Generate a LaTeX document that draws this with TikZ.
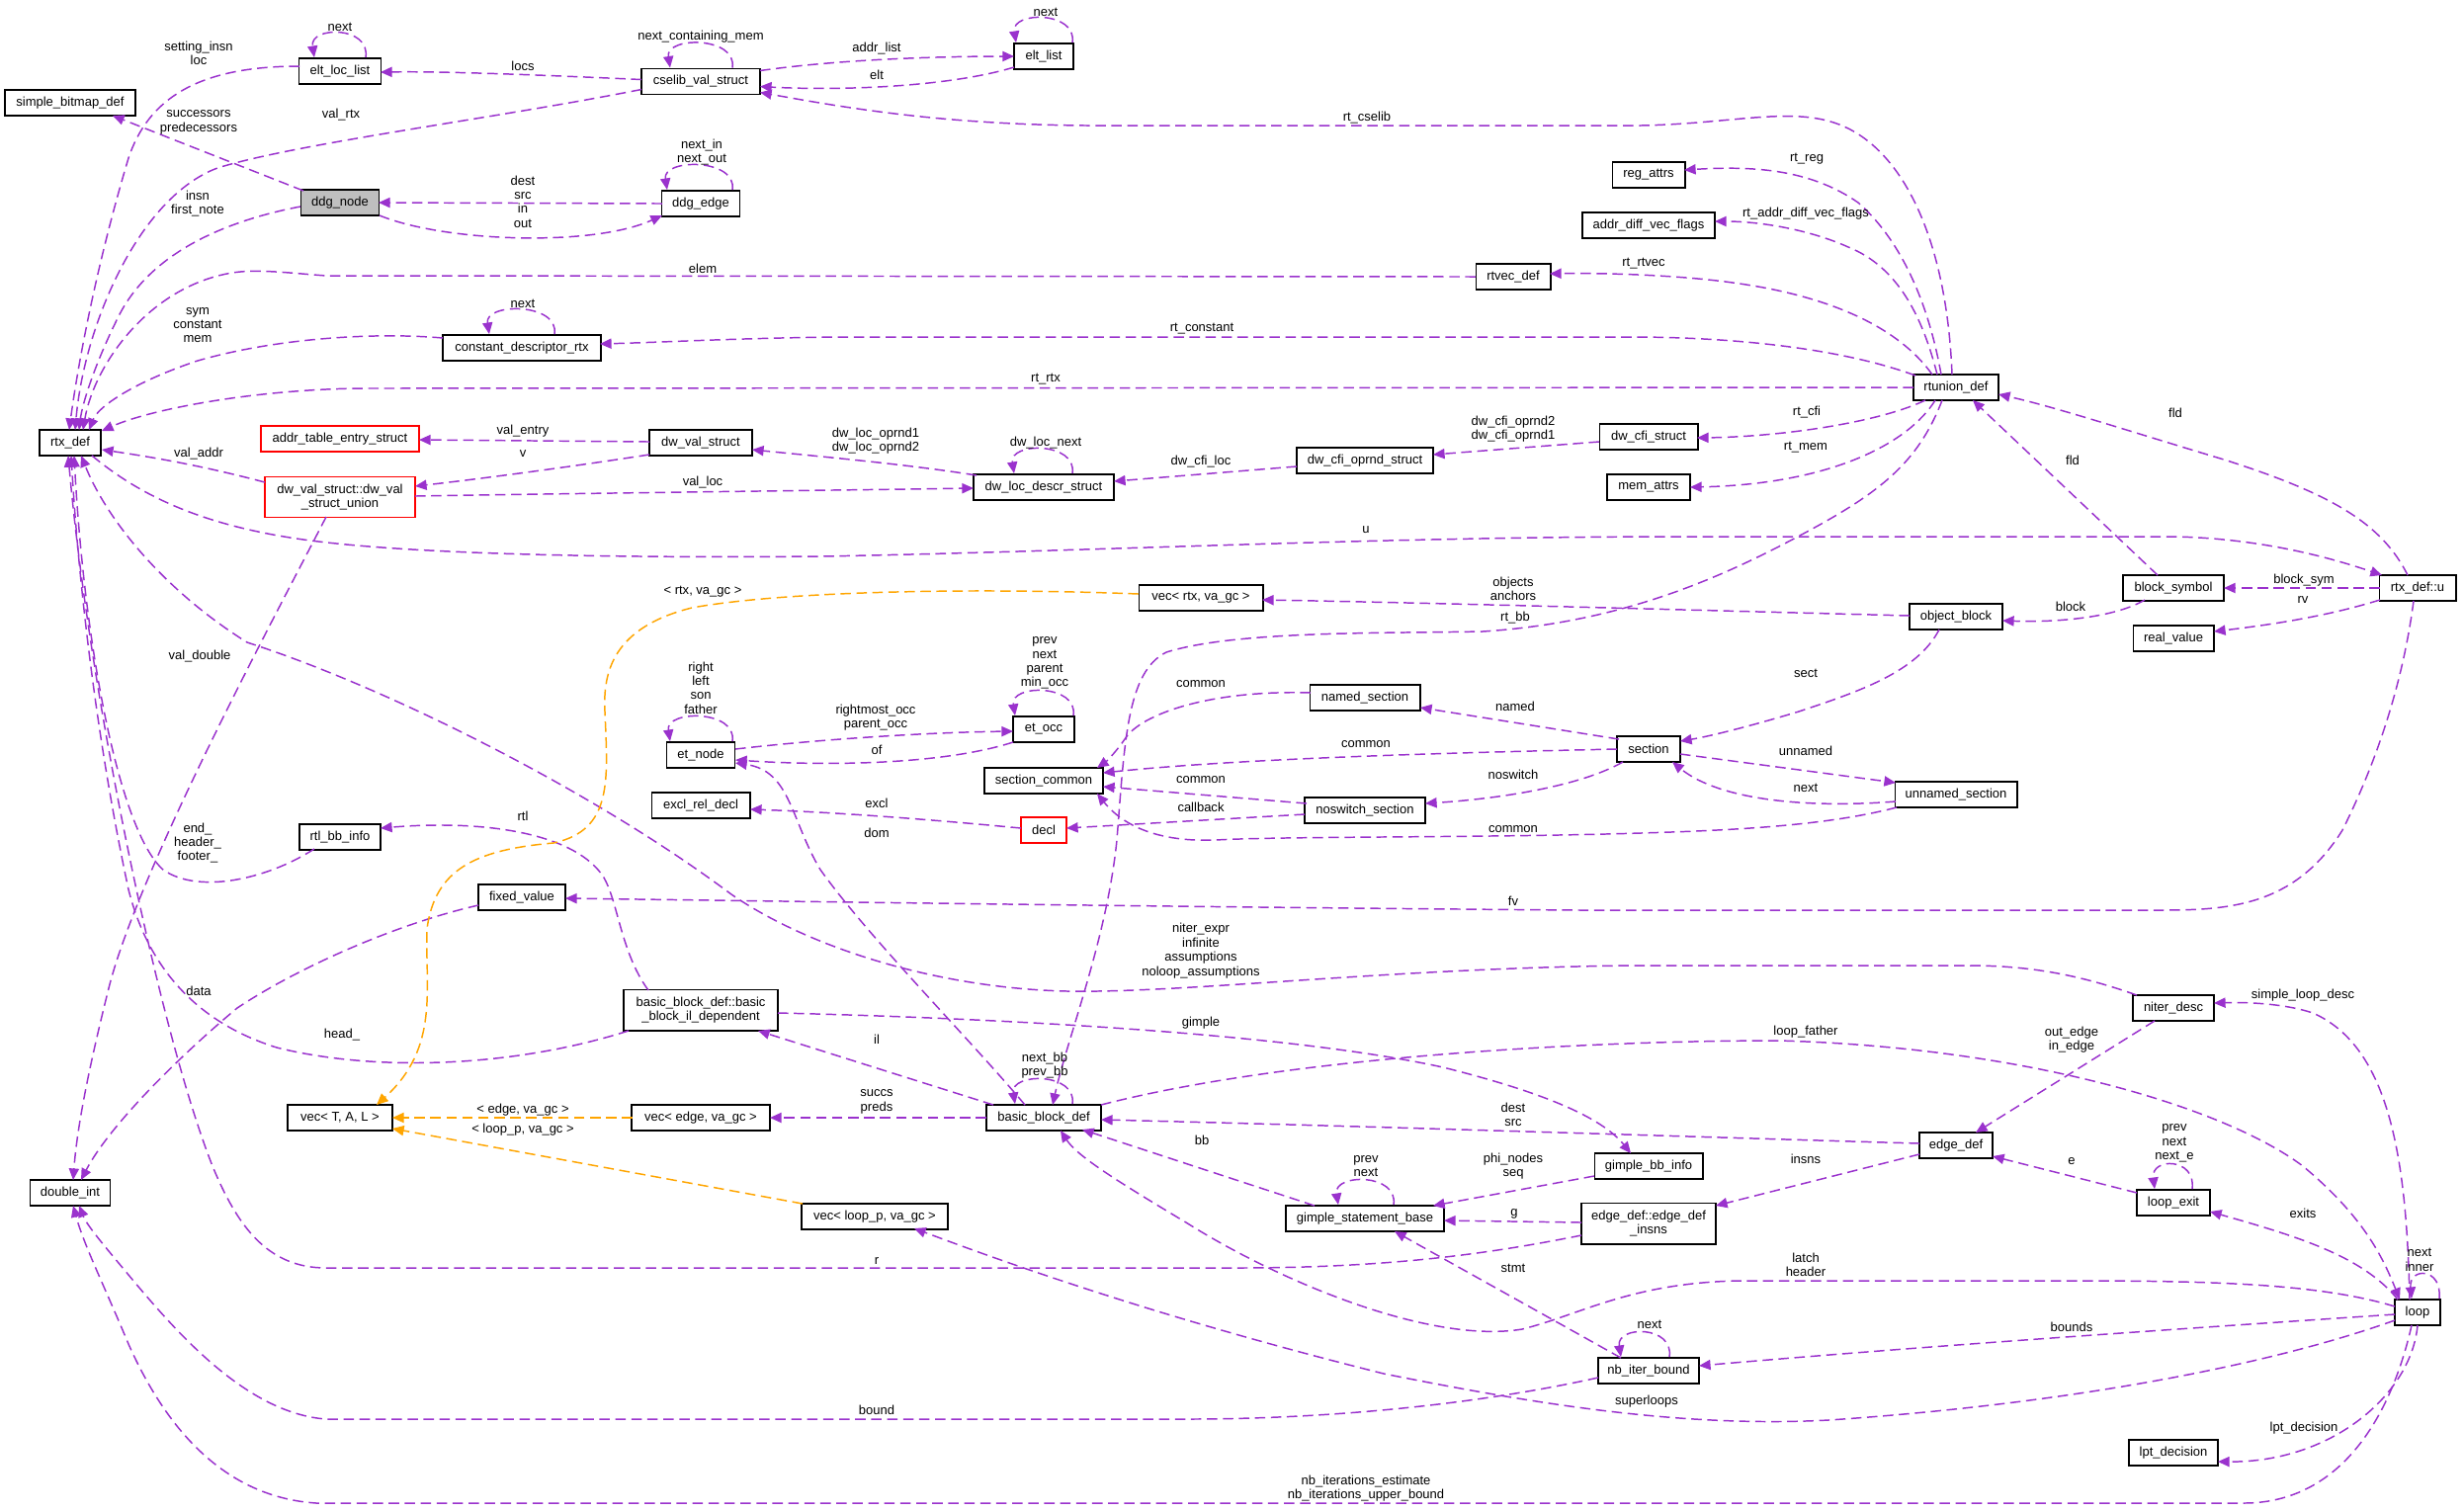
\documentclass[tikz,border=0pt]{standalone}
\usepackage{fontspec}
\setmainfont{Liberation Sans}
\usetikzlibrary{arrows.meta}
\definecolor{purp}{HTML}{9A32CD}
\definecolor{orng}{HTML}{FFA500}
\definecolor{gry}{HTML}{BFBFBF}
\newcommand\dfont{\fontsize{3.7}{4.1}\selectfont}
\begin{document}
\begin{tikzpicture}[x=0.01cm,y=-0.01cm,
 box/.style={draw=black,line width=0.55pt,minimum height=0.26cm,inner sep=0pt,font=\dfont,align=center},
 tall/.style={box,minimum height=0.41cm},
 lab/.style={font=\dfont,align=center,inner sep=0pt},
 e/.style={draw=purp,line width=0.42pt,dash pattern=on 3pt off 1.6pt,-{Triangle[length=3.3pt,width=2.9pt]}},
 o/.style={e,draw=orng}]
\useasboundingbox (0,0) rectangle (2493,1529);
% nodes
\node[box,minimum width=1.31cm] (sbd) at (71,104) {simple\_bitmap\_def};
\node[box,minimum width=0.83cm] (ell) at (344,72) {elt\_loc\_list};
\node[box,minimum width=1.20cm] (csv) at (709,82.5) {cselib\_val\_struct};
\node[box,minimum width=0.79cm,fill=gry] (ddgn) at (344,205) {ddg\_node};
\node[box,minimum width=0.79cm] (ddge) at (709,206) {ddg\_edge};
\node[box,minimum width=1.59cm] (cdr) at (528,352) {constant\_descriptor\_rtx};
\node[box,minimum width=0.62cm] (rtx) at (71,448) {rtx\_def};
\node[box,minimum width=1.59cm,draw=red] (ate) at (344,444) {addr\_table\_entry\_struct};
\node[box,minimum width=1.04cm] (dvs) at (709,448) {dw\_val\_struct};
\node[tall,minimum width=1.52cm,draw=red] (dvu) at (344,503) {dw\_val\_struct::dw\_val\\\_struct\_union};
\node[box,minimum width=0.60cm] (elt) at (1056,57) {elt\_list};
\node[box,minimum width=0.75cm] (rtv) at (1531,280) {rtvec\_def};
\node[box,minimum width=0.73cm] (rga) at (1668,177) {reg\_attrs};
\node[box,minimum width=1.34cm] (adv) at (1668,228) {addr\_diff\_vec\_flags};
\node[box,minimum width=1.42cm] (dld) at (1056,493) {dw\_loc\_descr\_struct};
\node[box,minimum width=1.38cm] (dco) at (1381,466) {dw\_cfi\_oprnd\_struct};
\node[box,minimum width=0.99cm] (dcs) at (1668,442) {dw\_cfi\_struct};
\node[box,minimum width=0.84cm] (mem) at (1668,493) {mem\_attrs};
\node[box,minimum width=0.86cm] (rtu) at (1979,392) {rtunion\_def};
\node[box,minimum width=0.69cm] (etn) at (709,764) {et\_node};
\node[box,minimum width=0.99cm] (erd) at (709,815) {excl\_rel\_decl};
\node[box,minimum width=0.82cm] (rbi) at (344,847) {rtl\_bb\_info};
\node[box,minimum width=0.88cm] (fxv) at (528,908) {fixed\_value};
\node[tall,minimum width=1.55cm] (bil) at (709,1022) {basic\_block\_def::basic\\\_block\_il\_dependent};
\node[box,minimum width=1.25cm] (vrx) at (1215,605) {vec< rtx, va\_gc >};
\node[box,minimum width=0.62cm] (eto) at (1056,738) {et\_occ};
\node[box,minimum width=1.11cm] (nms) at (1381,706) {named\_section};
\node[box,minimum width=1.20cm] (scm) at (1056,790) {section\_common};
\node[box,minimum width=1.22cm] (nss) at (1381,820) {noswitch\_section};
\node[box,minimum width=0.46cm,draw=red] (dcl) at (1056,840) {decl};
\node[box,minimum width=0.64cm] (sec) at (1668,758) {section};
\node[box,minimum width=1.02cm] (bsy) at (2199,595) {block\_symbol};
\node[box,minimum width=0.77cm] (rxu) at (2446,595) {rtx\_def::u};
\node[box,minimum width=0.94cm] (obl) at (1979,624) {object\_block};
\node[box,minimum width=0.81cm] (rlv) at (2199,646) {real\_value};
\node[box,minimum width=1.23cm] (uns) at (1979,804) {unnamed\_section};
\node[box,minimum width=0.82cm] (nid) at (2199,1020) {niter\_desc};
\node[box,minimum width=1.06cm] (vT) at (344,1131) {vec< T, A, L >};
\node[box,minimum width=1.39cm] (ved) at (709,1131) {vec< edge, va\_gc >};
\node[box,minimum width=0.81cm] (dbl) at (71,1207) {double\_int};
\node[box,minimum width=1.47cm] (vlp) at (885,1231) {vec< loop\_p, va\_gc >};
\node[box,minimum width=1.16cm] (bbd) at (1056,1131) {basic\_block\_def};
\node[box,minimum width=1.60cm] (gsb) at (1381,1233) {gimple\_statement\_base};
\node[box,minimum width=1.09cm] (gbi) at (1668,1180) {gimple\_bb\_info};
\node[tall,minimum width=1.36cm] (edi) at (1668,1238) {edge\_def::edge\_def\\\_insns};
\node[box,minimum width=1.02cm] (nib) at (1668,1387) {nb\_iter\_bound};
\node[box,minimum width=0.74cm] (edf) at (1979,1159) {edge\_def};
\node[box,minimum width=0.74cm] (lex) at (2199,1217) {loop\_exit};
\node[box,minimum width=0.46cm] (lop) at (2446,1328) {loop};
\node[box,minimum width=0.90cm] (lpt) at (2199,1470) {lpt\_decision};
% edges
\draw[e] ([shift={(-41,-5)}]ell.center) .. controls (200,67) and (150,100) .. (130,160) .. controls (100,260) and (80,360) .. ([shift={(-1,-13)}]rtx.center);
\draw[e] ([shift={(-60,8)}]csv.center) .. controls (500,120) and (300,145) .. (220,170) .. controls (140,200) and (85,330) .. ([shift={(5,-13)}]rtx.center);
\draw[e] ([shift={(-37,-12)}]ddgn.center) -- ([shift={(43,13)}]sbd.center);
\draw[e] ([shift={(-40,4)}]ddgn.center) .. controls (220,225) and (150,260) .. (120,320) .. controls (95,370) and (83,410) .. ([shift={(9,-13)}]rtx.center);
\draw[e] ([shift={(-39,0)}]ddge.center) -- ([shift={(39,0)}]ddgn.center);
\draw[e] ([shift={(40,13)}]ddgn.center) .. controls (450,245) and (600,250) .. ([shift={(-39,12)}]ddge.center);
\draw[e] ([shift={(-60,-2)}]csv.center) .. controls (550,76) and (450,72) .. ([shift={(41,1)}]ell.center);
\draw[e] ([shift={(60,-11)}]csv.center) .. controls (850,60) and (950,57) .. ([shift={(-30,0)}]elt.center);
\draw[e] ([shift={(-30,11)}]elt.center) .. controls (960,88) and (850,92) .. ([shift={(60,5)}]csv.center);
\draw[e] ([shift={(-4,-13)}]rtu.center) .. controls (1970,250) and (1930,160) .. (1870,130) .. controls (1820,105) and (1760,125) .. (1660,127) -- (1100,127) .. controls (950,126) and (850,108) .. ([shift={(60,11)}]csv.center);
\draw[e] ([shift={(-15,-13)}]rtu.center) .. controls (1950,300) and (1920,240) .. (1880,205) .. controls (1830,170) and (1770,168) .. ([shift={(36,-5)}]rga.center);
\draw[e] ([shift={(-19,-13)}]rtu.center) .. controls (1945,320) and (1920,270) .. (1870,250) .. controls (1830,232) and (1780,224) .. ([shift={(67,-4)}]adv.center);
\draw[e] ([shift={(-24,-13)}]rtu.center) .. controls (1920,330) and (1850,300) .. (1760,287) .. controls (1700,278) and (1620,276) .. ([shift={(37,-3)}]rtv.center);
\draw[e] ([shift={(-38,0)}]rtv.center) -- (330,279) .. controls (290,276) and (260,272) .. (235,276) .. controls (150,290) and (95,370) .. ([shift={(13,-13)}]rtx.center);
\draw[e] ([shift={(-41,-12)}]rtu.center) .. controls (1870,355) and (1770,342) .. (1660,341) -- (850,341) .. controls (750,342) and (680,346) .. ([shift={(79,-4)}]cdr.center);
\draw[e] ([shift={(-80,-10)}]cdr.center) .. controls (380,336) and (280,342) .. (200,365) .. controls (140,385) and (100,410) .. ([shift={(19,-13)}]rtx.center);
\draw[e] ([shift={(-43,0)}]rtu.center) -- (360,393) .. controls (250,395) and (150,415) .. ([shift={(32,-12)}]rtx.center);
\draw[e] ([shift={(-52,-1)}]dvs.center) -- ([shift={(80,1)}]ate.center);
\draw[e] ([shift={(-52,12)}]dvs.center) .. controls (580,472) and (490,484) .. ([shift={(76,-11)}]dvu.center);
\draw[e] ([shift={(-76,-15)}]dvu.center) .. controls (200,470) and (150,462) .. ([shift={(32,7)}]rtx.center);
\draw[e] ([shift={(76,-1)}]dvu.center) .. controls (600,499) and (850,496) .. ([shift={(-71,1)}]dld.center);
\draw[e] ([shift={(-68,-12)}]dld.center) .. controls (920,470) and (830,462) .. ([shift={(52,7)}]dvs.center);
\draw[e] ([shift={(-69,6)}]dco.center) -- ([shift={(71,-6)}]dld.center);
\draw[e] ([shift={(-50,5)}]dcs.center) -- ([shift={(69,-6)}]dco.center);
\draw[e] ([shift={(-31,13)}]rtu.center) .. controls (1900,428) and (1800,442) .. ([shift={(49,1)}]dcs.center);
\draw[e] ([shift={(-21,13)}]rtu.center) .. controls (1930,450) and (1850,490) .. ([shift={(42,0)}]mem.center);
\draw[e] ([shift={(-14,13)}]rtu.center) .. controls (1940,470) and (1900,500) .. (1819,543) .. controls (1740,585) and (1640,630) .. (1500,639) .. controls (1400,641) and (1250,638) .. (1180,660) .. controls (1140,680) and (1138,750) .. (1130,850) .. controls (1120,950) and (1080,1050) .. ([shift={(9,-13)}]bbd.center);
\draw[e] ([shift={(35,-6)}]etn.center) .. controls (830,748) and (940,741) .. ([shift={(-31,2)}]eto.center);
\draw[e] ([shift={(-31,13)}]eto.center) .. controls (960,772) and (850,776) .. ([shift={(35,5)}]etn.center);
\draw[e] ([shift={(-19,-13)}]bbd.center) .. controls (980,1050) and (880,950) .. (830,880) .. controls (800,830) and (800,780) .. ([shift={(35,8)}]etn.center);
\draw[e] ([shift={(-23,-2)}]dcl.center) .. controls (950,830) and (850,822) .. ([shift={(50,4)}]erd.center);
\draw[e] ([shift={(-61,4)}]nss.center) -- ([shift={(23,-2)}]dcl.center);
\draw[e] ([shift={(-59,-7)}]nss.center) -- ([shift={(60,6)}]scm.center);
\draw[e] ([shift={(-55,-5)}]nms.center) .. controls (1230,698) and (1160,720) .. (1140,745) .. controls (1130,760) and (1120,770) .. ([shift={(54,-13)}]scm.center);
\draw[e] ([shift={(-32,0)}]sec.center) .. controls (1450,762) and (1250,768) .. ([shift={(60,-8)}]scm.center);
\draw[e] ([shift={(-60,13)}]uns.center) .. controls (1850,835) and (1760,840) .. (1660,843) .. controls (1500,848) and (1300,846) .. (1230,850) .. controls (1180,852) and (1140,840) .. ([shift={(54,13)}]scm.center);
\draw[e] ([shift={(-30,-10)}]sec.center) -- ([shift={(56,10)}]nms.center);
\draw[e] ([shift={(-26,13)}]sec.center) .. controls (1600,795) and (1520,808) .. ([shift={(61,-7)}]nss.center);
\draw[e] ([shift={(32,5)}]sec.center) -- ([shift={(-61,-12)}]uns.center);
\draw[e] ([shift={(-61,7)}]uns.center) .. controls (1830,818) and (1740,810) .. ([shift={(24,13)}]sec.center);
\draw[e] ([shift={(-17,13)}]obl.center) .. controls (1940,680) and (1880,700) .. (1820,720) .. controls (1770,735) and (1730,745) .. ([shift={(32,-8)}]sec.center);
\draw[e] ([shift={(-47,-1)}]obl.center) .. controls (1700,617) and (1450,610) .. ([shift={(62,2)}]vrx.center);
\draw[e] ([shift={(-29,12)}]bsy.center) .. controls (2140,625) and (2080,630) .. ([shift={(47,4)}]obl.center);
\draw[e] ([shift={(-16,-13)}]bsy.center) -- ([shift={(17,13)}]rtu.center);
\draw[e] ([shift={(-10,-13)}]rxu.center) .. controls (2410,530) and (2360,500) .. (2250,465) .. controls (2150,435) and (2080,412) .. ([shift={(43,7)}]rtu.center);
\draw[e] ([shift={(-38,0)}]rxu.center) -- ([shift={(51,0)}]bsy.center);
\draw[e] ([shift={(-38,12)}]rxu.center) .. controls (2350,625) and (2290,633) .. ([shift={(41,-7)}]rlv.center);
\draw[e] ([shift={(-4,13)}]rxu.center) .. controls (2430,700) and (2400,780) .. (2370,840) .. controls (2320,920) and (2250,921) .. (2180,921) -- (1600,921) .. controls (1200,918) and (800,912) .. ([shift={(44,1)}]fxv.center);
\draw[e] ([shift={(22,13)}]rtx.center) .. controls (140,500) and (200,530) .. (300,545) .. controls (400,560) and (600,565) .. (830,563) .. controls (1100,558) and (1400,543) .. (1700,543) -- (2200,543) .. controls (2290,545) and (2360,565) .. ([shift={(-36,-13)}]rxu.center);
\draw[e] ([shift={(-37,-13)}]nid.center) .. controls (2100,985) and (2050,977) .. (1990,977) -- (1650,977) .. controls (1400,980) and (1200,1005) .. (1080,1003) .. controls (950,1000) and (820,960) .. (740,905) .. controls (600,800) and (390,695) .. (250,650) .. controls (170,600) and (110,530) .. ([shift={(11,13)}]rtx.center);
\draw[e] ([shift={(-26,12)}]rbi.center) .. controls (270,890) and (200,905) .. (165,880) .. controls (120,840) and (85,650) .. ([shift={(4,13)}]rtx.center);
\draw[e] ([shift={(-73,21)}]bil.center) .. controls (520,1080) and (380,1085) .. (280,1060) .. controls (200,1035) and (150,980) .. (130,900) .. controls (100,760) and (80,600) .. ([shift={(1,13)}]rtx.center);
\draw[e] ([shift={(-68,12)}]edi.center) .. controls (1500,1270) and (1400,1283) .. (1250,1283) -- (330,1283) .. controls (270,1283) and (240,1240) .. (215,1180) .. controls (160,1040) and (90,700) .. ([shift={(-2,13)}]rtx.center);
\draw[e] ([shift={(-44,8)}]fxv.center) .. controls (400,935) and (300,980) .. (240,1020) .. controls (180,1070) and (110,1140) .. ([shift={(11,-13)}]dbl.center);
\draw[e] ([shift={(-14,20)}]dvu.center) .. controls (280,620) and (140,880) .. (110,1000) .. controls (90,1080) and (78,1140) .. ([shift={(3,-13)}]dbl.center);
\draw[e] ([shift={(-51,7)}]nib.center) .. controls (1500,1420) and (1350,1436) .. (1200,1436) -- (330,1436) .. controls (250,1430) and (180,1350) .. (130,1290) .. controls (105,1260) and (88,1240) .. ([shift={(9,13)}]dbl.center);
\draw[e] ([shift={(-6,13)}]lop.center) .. controls (2420,1430) and (2370,1521) .. (2270,1521) -- (320,1521) .. controls (230,1515) and (170,1450) .. (130,1360) .. controls (105,1300) and (85,1260) .. ([shift={(3,13)}]dbl.center);
\draw[e] ([shift={(0,13)}]lop.center) .. controls (2440,1410) and (2360,1480) .. ([shift={(45,9)}]lpt.center);
\draw[e] ([shift={(-53,-20)}]bil.center) .. controls (625,960) and (625,900) .. (605,880) .. controls (570,840) and (480,830) .. ([shift={(41,-9)}]rbi.center);
\draw[o] ([shift={(-63,-4)}]vrx.center) .. controls (1000,595) and (800,597) .. (700,615) .. controls (620,635) and (610,680) .. (612,720) .. controls (615,790) and (620,840) .. (560,853) .. controls (480,860) and (440,880) .. (432,940) .. controls (430,1000) and (445,1060) .. ([shift={(37,-13)}]vT.center);
\draw[o] ([shift={(-69,0)}]ved.center) -- ([shift={(53,0)}]vT.center);
\draw[o] ([shift={(-73,-13)}]vlp.center) -- ([shift={(53,11)}]vT.center);
\draw[e] ([shift={(-58,0)}]bbd.center) -- ([shift={(70,0)}]ved.center);
\draw[e] ([shift={(-51,-13)}]bbd.center) -- ([shift={(58,21)}]bil.center);
\draw[e] ([shift={(78,3)}]bil.center) .. controls (1000,1030) and (1300,1045) .. (1460,1080) .. controls (1560,1105) and (1620,1130) .. ([shift={(-18,-13)}]gbi.center);
\draw[e] ([shift={(58,-13)}]bbd.center) .. controls (1300,1070) and (1600,1053) .. (1800,1053) .. controls (2050,1060) and (2250,1120) .. (2330,1180) .. controls (2390,1230) and (2410,1270) .. ([shift={(-18,-13)}]lop.center);
\draw[e] ([shift={(-8,-13)}]lop.center) .. controls (2435,1180) and (2420,1060) .. (2340,1025) .. controls (2310,1015) and (2270,1014) .. ([shift={(41,-5)}]nid.center);
\draw[e] ([shift={(-19,13)}]nid.center) -- ([shift={(20,-13)}]edf.center);
\draw[e] ([shift={(-37,-2)}]edf.center) .. controls (1700,1150) and (1400,1140) .. ([shift={(58,2)}]bbd.center);
\draw[e] ([shift={(-37,9)}]edf.center) -- ([shift={(68,-18)}]edi.center);
\draw[e] ([shift={(-37,-10)}]lex.center) -- ([shift={(37,11)}]edf.center);
\draw[e] ([shift={(-20,-13)}]lop.center) .. controls (2390,1270) and (2320,1250) .. ([shift={(37,9)}]lex.center);
\draw[e] ([shift={(-23,-6)}]lop.center) .. controls (2350,1300) and (2250,1296) .. (2100,1296) -- (1760,1296) .. controls (1650,1298) and (1600,1330) .. (1540,1345) .. controls (1450,1360) and (1300,1300) .. (1200,1237) .. controls (1130,1195) and (1090,1170) .. ([shift={(17,13)}]bbd.center);
\draw[e] ([shift={(-23,2)}]lop.center) .. controls (2200,1345) and (1950,1362) .. ([shift={(51,-5)}]nib.center);
\draw[e] ([shift={(-28,-13)}]nib.center) -- ([shift={(30,13)}]gsb.center);
\draw[e] ([shift={(-23,8)}]lop.center) .. controls (2300,1380) and (2100,1420) .. (1850,1437) .. controls (1700,1445) and (1550,1420) .. (1400,1390) .. controls (1200,1340) and (1050,1290) .. ([shift={(40,12)}]vlp.center);
\draw[e] ([shift={(-51,-13)}]gsb.center) -- ([shift={(39,12)}]bbd.center);
\draw[e] ([shift={(-55,10)}]gbi.center) -- ([shift={(69,-13)}]gsb.center);
\draw[e] ([shift={(-68,-1)}]edi.center) -- ([shift={(80,2)}]gsb.center);
% self loops
\draw[e] ([xshift=0.26cm]ell.north) .. controls +(5,-32) and +(-5,-32) .. ([xshift=-0.26cm]ell.north);
\draw[e] ([xshift=0.32cm]csv.north) .. controls +(5,-32) and +(-5,-32) .. ([xshift=-0.31cm]csv.north);
\draw[e] ([xshift=0.29cm]elt.north) .. controls +(5,-32) and +(-5,-32) .. ([xshift=-0.28cm]elt.north);
\draw[e] ([xshift=0.32cm]ddge.north) .. controls +(5,-32) and +(-5,-32) .. ([xshift=-0.34cm]ddge.north);
\draw[e] ([xshift=0.33cm]cdr.north) .. controls +(5,-32) and +(-5,-32) .. ([xshift=-0.33cm]cdr.north);
\draw[e] ([xshift=0.29cm]dld.north) .. controls +(5,-32) and +(-5,-32) .. ([xshift=-0.30cm]dld.north);
\draw[e] ([xshift=0.32cm]etn.north) .. controls +(5,-32) and +(-5,-32) .. ([xshift=-0.31cm]etn.north);
\draw[e] ([xshift=0.30cm]eto.north) .. controls +(5,-32) and +(-5,-32) .. ([xshift=-0.29cm]eto.north);
\draw[e] ([xshift=0.29cm]bbd.north) .. controls +(5,-32) and +(-5,-32) .. ([xshift=-0.29cm]bbd.north);
\draw[e] ([xshift=0.29cm]gsb.north) .. controls +(5,-32) and +(-5,-32) .. ([xshift=-0.27cm]gsb.north);
\draw[e] ([xshift=0.19cm]lex.north) .. controls +(4,-32) and +(-4,-32) .. ([xshift=-0.19cm]lex.north);
\draw[e] ([xshift=0.21cm]nib.north) .. controls +(5,-32) and +(-5,-32) .. ([xshift=-0.28cm]nib.north);
\draw[e] ([xshift=0.22cm]lop.north) .. controls +(3,-32) and +(-3,-32) .. ([xshift=-0.06cm]lop.north);
% labels
\node[lab] (t1) at (201,54) {setting\_insn\\loc};
\node[lab] (t2) at (529,67) {locs};
\node[lab] (t3) at (345,116) {val\_rtx};
\node[lab] (t4) at (201,124) {successors\\predecessors};
\node[lab] (t5) at (200,206) {insn\\first\_note};
\node[lab] (t6) at (529,204) {dest\\src\\in\\out};
\node[lab] (t7) at (710,154) {next\_in\\next\_out};
\node[lab] (t8) at (344,27) {next};
\node[lab] (t9) at (709,37) {next\_containing\_mem};
\node[lab] (t10) at (711,272) {elem};
\node[lab] (t11) at (529,307) {next};
\node[lab] (t12) at (200,329) {sym\\constant\\mem};
\node[lab] (t13) at (529,436) {val\_entry};
\node[lab] (t14) at (529,459) {v};
\node[lab] (t15) at (201,459) {val\_addr};
\node[lab] (t16) at (711,488) {val\_loc};
\node[lab] (t17) at (887,49) {addr\_list};
\node[lab] (t18) at (887,76) {elt};
\node[lab] (t19) at (1058,12) {next};
\node[lab] (t20) at (1383,119) {rt\_cselib};
\node[lab] (t21) at (1216,333) {rt\_constant};
\node[lab] (t22) at (1058,384) {rt\_rtx};
\node[lab] (t23) at (886,446) {dw\_loc\_oprnd1\\dw\_loc\_oprnd2};
\node[lab] (t24) at (1058,448) {dw\_loc\_next};
\node[lab] (t25) at (1215,467) {dw\_cfi\_loc};
\node[lab] (t26) at (1531,434) {dw\_cfi\_oprnd2\\dw\_cfi\_oprnd1};
\node[lab] (t27) at (1828,161) {rt\_reg};
\node[lab] (t28) at (1827,216) {rt\_addr\_diff\_vec\_flags};
\node[lab] (t29) at (1663,267) {rt\_rtvec};
\node[lab] (t30) at (1828,417) {rt\_cfi};
\node[lab] (t31) at (1827,453) {rt\_mem};
\node[lab] (t32) at (2201,418) {fld};
\node[lab] (t33) at (2097,466) {fld};
\node[lab] (t34) at (711,599) {< rtx, va\_gc >};
\node[lab] (t35) at (709,696) {right\\left\\son\\father};
\node[lab] (t36) at (202,664) {val\_double};
\node[lab] (t37) at (529,826) {rtl};
\node[lab] (t38) at (200,853) {end\_\\header\_\\footer\_};
\node[lab] (t39) at (201,1003) {data};
\node[lab] (t40) at (1382,536) {u};
\node[lab] (t41) at (1531,596) {objects\\anchors};
\node[lab] (t42) at (1533,625) {rt\_bb};
\node[lab] (t43) at (1057,671) {prev\\next\\parent\\min\_occ};
\node[lab] (t44) at (886,726) {rightmost\_occ\\parent\_occ};
\node[lab] (t45) at (887,759) {of};
\node[lab] (t46) at (1215,692) {common};
\node[lab] (t47) at (1533,715) {named};
\node[lab] (t48) at (1382,753) {common};
\node[lab] (t49) at (1531,784) {noswitch};
\node[lab] (t50) at (1215,789) {common};
\node[lab] (t51) at (1215,817) {callback};
\node[lab] (t52) at (887,813) {excl};
\node[lab] (t53) at (887,843) {dom};
\node[lab] (t54) at (1531,839) {common};
\node[lab] (t55) at (1531,912) {fv};
\node[lab] (t56) at (1215,962) {niter\_expr\\infinite\\assumptions\\noloop\_assumptions};
\node[lab] (t57) at (2331,587) {block\_sym};
\node[lab] (t58) at (2330,607) {rv};
\node[lab] (t59) at (2095,614) {block};
\node[lab] (t60) at (1827,681) {sect};
\node[lab] (t61) at (1827,760) {unnamed};
\node[lab] (t62) at (1827,797) {next};
\node[lab] (t63) at (2330,1007) {simple\_loop\_desc};
\node[lab] (t64) at (346,1047) {head\_};
\node[lab] (t65) at (529,1123) {< edge, va\_gc >};
\node[lab] (t66) at (529,1143) {< loop\_p, va\_gc >};
\node[lab] (t67) at (1215,1035) {gimple};
\node[lab] (t68) at (887,1052) {il};
\node[lab] (t69) at (1057,1078) {next\_bb\\prev\_bb};
\node[lab] (t70) at (887,1115) {succs\\preds};
\node[lab] (t71) at (1531,1128) {dest\\src};
\node[lab] (t72) at (1216,1154) {bb};
\node[lab] (t73) at (1382,1180) {prev\\next};
\node[lab] (t74) at (1531,1180) {phi\_nodes\\seq};
\node[lab] (t75) at (1532,1228) {g};
\node[lab] (t76) at (887,1276) {r};
\node[lab] (t77) at (1531,1283) {stmt};
\node[lab] (t78) at (887,1427) {bound};
\node[lab] (t79) at (1382,1506) {nb\_iterations\_estimate\\nb\_iterations\_upper\_bound};
\node[lab] (t80) at (1827,1044) {loop\_father};
\node[lab] (t81) at (2096,1052) {out\_edge\\in\_edge};
\node[lab] (t82) at (1827,1173) {insns};
\node[lab] (t83) at (2096,1175) {e};
\node[lab] (t84) at (2200,1157) {prev\\next\\next\_e};
\node[lab] (t85) at (2330,1228) {exits};
\node[lab] (t86) at (2448,1275) {next\\inner};
\node[lab] (t87) at (1827,1280) {latch\\header};
\node[lab] (t88) at (1669,1340) {next};
\node[lab] (t89) at (2096,1343) {bounds};
\node[lab] (t90) at (1666,1418) {superloops};
\node[lab] (t91) at (2331,1445) {lpt\_decision};
\end{tikzpicture}
\end{document}
